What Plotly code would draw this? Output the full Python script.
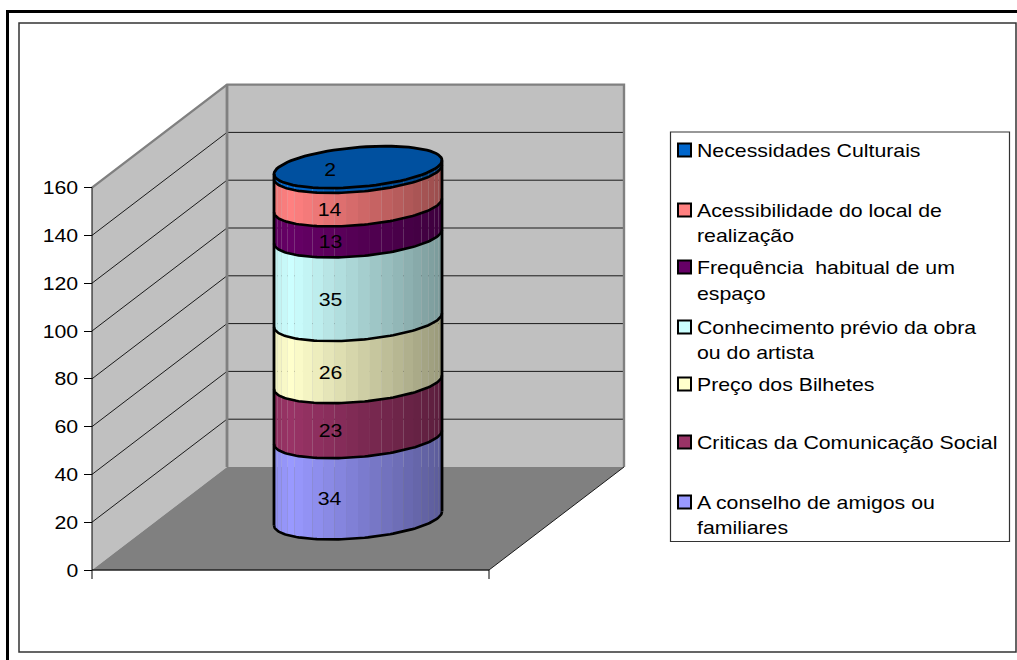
import math
import plotly.graph_objects as go

# ---- data (bottom to top of the stack) ----
series_names = [
    ["A conselho de amigos ou", "familiares"],
    ["Criticas da Comunicação Social"],
    ["Preço dos Bilhetes"],
    ["Conhecimento prévio da obra", "ou do artista"],
    ["Frequência  habitual de um", "espaço"],
    ["Acessibilidade do local de", "realização"],
    ["Necessidades Culturais"],
]
series_values = [34, 23, 26, 35, 13, 14, 2]
series_colors = ["#9999FF", "#993366", "#FFFFCC", "#CCFFFF", "#660066", "#FF8080", "#0066CC"]
tick_values = [0, 20, 40, 60, 80, 100, 120, 140, 160]
axis_max = 160

# ---- page and projection geometry (pixels) ----
W, H = 1017, 660
PX_PER_UNIT = 2.39
Y0_PX = 570
FRONT_L, FRONT_R = 92, 489
DEPTH_X, DEPTH_Y = 135, 103
CYL_RX = 84
CYL_VY = 21
FONT = "Liberation Sans, Arial, sans-serif"
FS = 19


def val(p):
    """pixel row -> axis value"""
    return (Y0_PX - p) / PX_PER_UNIT


dv = DEPTH_Y / PX_PER_UNIT
fig = go.Figure()


def poly(xs, ys, fill, line=None, lw=0):
    fig.add_trace(go.Scatter(
        x=xs, y=ys, mode="lines", fill="toself", fillcolor=fill,
        line=dict(color=line or fill, width=lw), hoverinfo="skip", showlegend=False))


def line(xs, ys, color="#000000", lw=1.0):
    fig.add_trace(go.Scatter(
        x=xs, y=ys, mode="lines", line=dict(color=color, width=lw),
        hoverinfo="skip", showlegend=False))


BL, BR = FRONT_L + DEPTH_X, FRONT_R + DEPTH_X

# walls and floor
poly([FRONT_L, BL, BL, FRONT_L, FRONT_L], [axis_max, axis_max + dv, dv, 0, axis_max], "#C0C0C0")
poly([BL, BR, BR, BL, BL], [dv, dv, axis_max + dv, axis_max + dv, dv], "#C0C0C0")
poly([FRONT_L, FRONT_R, BR, BL, FRONT_L], [0, 0, dv, dv, 0], "#808080")

# gridlines
for t in tick_values[1:-1]:
    line([FRONT_L, BL, BR], [t, t + dv, t + dv], "#1a1a1a", 1)

# wall edges
line([FRONT_L, BL, BR, BR], [axis_max, axis_max + dv, axis_max + dv, dv], "#808080", 2.4)
line([BL, BL], [dv, axis_max + dv], "#808080", 2.8)
line([FRONT_R, BR], [0, dv], "#1a1a1a", 1)
line([FRONT_L, FRONT_R], [0, 0], "#222222", 1.6)

# axis lines and category ticks
tick_len = 9 / PX_PER_UNIT
line([FRONT_L, FRONT_L], [-tick_len, axis_max], "#000000", 1)
line([FRONT_R, FRONT_R], [-tick_len, 0], "#000000", 1)

# cylinder
cx = (FRONT_L + FRONT_R + DEPTH_X) / 2
base_v = dv / 2
vy_u = CYL_VY / PX_PER_UNIT
vx = CYL_VY * DEPTH_X / DEPTH_Y
ax = math.sqrt(CYL_RX ** 2 - vx ** 2)
phi = math.atan2(vx, ax)


def ell(tt, level):
    return cx + ax * math.cos(tt) + vx * math.sin(tt), level + vy_u * math.sin(tt)


def shade(frac):
    if frac < 0.1:
        return 0.93 + 0.07 * frac / 0.1
    return 1 - 0.40 * (frac - 0.1) / 0.9


def scaled(hex_color, k):
    r, g, b = (int(hex_color[i:i + 2], 16) for i in (1, 3, 5))
    return f"rgb({r * k:.0f},{g * k:.0f},{b * k:.0f})"


N_STRIP = 22
N_ARC = 80
levels = [base_v]
for v in series_values:
    levels.append(levels[-1] + v)

for i, col in enumerate(series_colors):
    lo, hi = levels[i], levels[i + 1]
    for s in range(N_STRIP):
        sub = 4
        tts = [phi + math.pi + math.pi * (s + j / sub) / N_STRIP for j in range(sub + 1)]
        low = [ell(t, lo) for t in tts]
        up = [ell(t, hi) for t in reversed(tts)]
        xs = [p[0] for p in low + up] + [low[0][0]]
        ys = [p[1] for p in low + up] + [low[0][1]]
        mid_x = (low[0][0] + low[-1][0]) / 2
        poly(xs, ys, scaled(col, shade((mid_x - (cx - CYL_RX)) / (2 * CYL_RX))))

# top face
tts = [2 * math.pi * j / N_ARC for j in range(N_ARC + 1)]
top = [ell(t, levels[-1]) for t in tts]
poly([p[0] for p in top], [p[1] for p in top], "#00509F", "#000000", 2.8)

# segment boundaries and silhouettes
arc_t = [phi + math.pi + math.pi * j / N_ARC for j in range(N_ARC + 1)]
for lv in levels[:-1]:
    pts = [ell(t, lv) for t in arc_t]
    line([p[0] for p in pts], [p[1] for p in pts], "#000000", 2.6)
for t in (phi + math.pi, phi + 2 * math.pi):
    a, b = ell(t, levels[0]), ell(t, levels[-1])
    line([a[0], b[0]], [a[1], b[1]], "#000000", 2.8)

annotations = []


def label(text, x, y, anchor="center"):
    annotations.append(dict(
        x=x, y=y, xref="x", yref="y", text=text, showarrow=False, xanchor=anchor, yanchor="middle",
        borderpad=0, font=dict(family=FONT, size=FS, color="#000000")))


# value labels, on the front of the cylinder (the top series sits on the top face)
label_x = ell(-math.pi / 2, 0)[0]
for i, v in enumerate(series_values):
    mid = (levels[i] + levels[i + 1]) / 2
    label(str(v), label_x, mid if i == len(series_values) - 1 else mid - vy_u)

# legend (listed top-down, reversed with respect to the stack)
legend_rows = [(150, None), (210, 235), (267, 293), (327, 352), (384, None), (442, None), (502, 527)]
for (row, row2), name, col in zip(legend_rows, series_names[::-1], series_colors[::-1]):
    fig.add_trace(go.Scatter(
        x=[684.5], y=[val(row)], mode="markers", hoverinfo="skip", showlegend=False,
        marker=dict(symbol="square", size=13, color=col, line=dict(color="#000000", width=2))))
    label(name[0], 696, val(row), "left")
    if row2:
        label(name[1], 696, val(row2), "left")


def box(x0, y0, x1, y1, color, lw):
    return dict(type="rect", xref="x", yref="y", x0=x0, x1=x1, y0=val(y0), y1=val(y1),
                line=dict(color=color, width=lw), layer="below")


shapes = [
    box(670.5, 132, 1009.5, 541.5, "#333333", 1.2),
    box(19, 23, 1016, 652, "#333333", 1.5),
    box(7.5, 11.5, 1030, 680, "#000000", 3),
]

fig.update_layout(
    width=W, height=H, margin=dict(l=0, r=0, t=0, b=0),
    paper_bgcolor="#FFFFFF", plot_bgcolor="#FFFFFF",
    showlegend=False, shapes=shapes, annotations=annotations,
    font=dict(family=FONT, size=FS, color="#000000"),
    xaxis=dict(range=[0, W], visible=False, fixedrange=True),
    yaxis=dict(
        range=[val(H), val(0)], anchor="free", position=FRONT_L / W,
        tickmode="array", tickvals=tick_values, ticktext=[str(t) for t in tick_values],
        ticks="outside", ticklen=8, tickcolor="#000000", tickwidth=1,
        showgrid=False, zeroline=False, showline=False, fixedrange=True,
        ticklabelstandoff=2, tickfont=dict(family=FONT, size=FS, color="#000000")),
)

# the reference is a horizontally stretched bitmap: widen glyphs by the same factor,
# keeping legend lines pinned to their left edge
stretch = """
document.body.style.margin = '0';
document.querySelectorAll('.annotation-text, .ytick text').forEach(function (t) {
  var before = t.getBoundingClientRect().left;
  t.setAttribute('textLength', (t.getComputedTextLength() * 1.12).toFixed(1));
  t.setAttribute('lengthAdjust', 'spacingAndGlyphs');
  if (before > 690) {
    var dx = before - t.getBoundingClientRect().left;
    t.setAttribute('x', parseFloat(t.getAttribute('x')) + dx);
  }
});
"""
fig.write_html("out.html", post_script=stretch, config=dict(displayModeBar=False))
